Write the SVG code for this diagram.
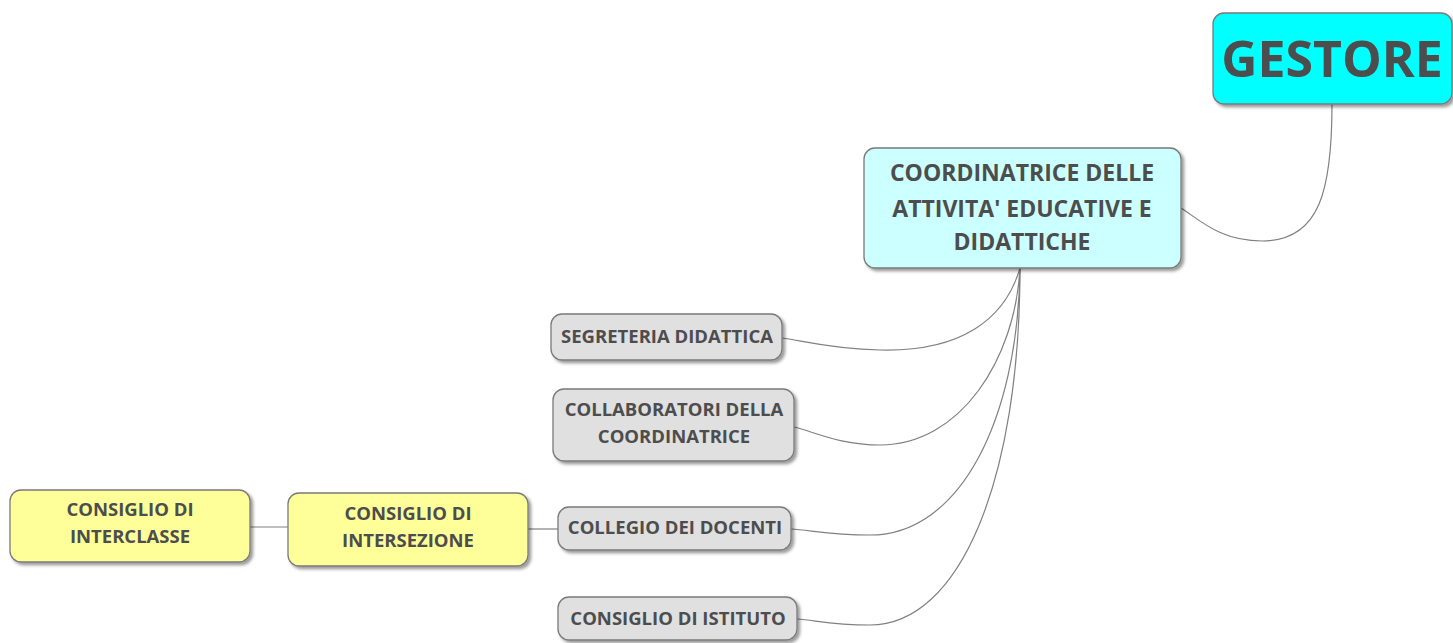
<svg xmlns="http://www.w3.org/2000/svg" width="1453" height="643" viewBox="0 0 1453 643">
<style>
.n{stroke:#7a7a7a;stroke-width:1.3;filter:url(#sh)}
.t{font-family:"Open Sans","Noto Sans",sans-serif;font-weight:bold;fill:#4d4d4d;text-anchor:middle}
.s{font-size:18.5px}
.c{fill:none;stroke:#808080;stroke-width:1.2}
</style>
<defs>
<filter id="sh" x="-10%" y="-10%" width="130%" height="140%">
<feDropShadow dx="2.5" dy="2.5" stdDeviation="1.5" flood-color="#000" flood-opacity="0.4"/>
</filter>
</defs>
<rect width="1453" height="643" fill="#fff"/>
<g id="connectors">
<path class="c" d="M1332,104 C1332,190 1320,241 1262,241 C1220,241 1200,220 1181,208"/>
<path class="c" d="M1020,268 C1005,320 960,352 880,350 C830,349 800,340 782,338"/>
<path class="c" d="M1020,268 C1015,360 960,445 880,445 C840,445 815,432 794,427"/>
<path class="c" d="M1020,268 C1018,420 960,535 870,535 C830,535 810,530 791,529"/>
<path class="c" d="M1020,268 C1020,480 960,625 870,625 C830,625 815,620 797,619"/>
<path class="c" d="M528,529 L558,529"/>
<path class="c" d="M250,527 L288,527"/>
</g>
<g id="gestore">
<rect class="n" x="1213" y="13" width="239" height="91" rx="11" fill="#00ffff"/>
<text class="t" x="1332" y="77" font-size="50">GESTORE</text>
</g>
<g id="coordinatrice">
<rect class="n" x="864" y="148" width="317" height="120" rx="11" fill="#ccffff"/>
<text class="t" font-size="23"><tspan x="1022" y="181">COORDINATRICE DELLE</tspan><tspan x="1022" y="217">ATTIVITA' EDUCATIVE E</tspan><tspan x="1022" y="250">DIDATTICHE</tspan></text>
</g>
<g id="segreteria">
<rect class="n" x="551" y="314" width="231" height="46" rx="11" fill="#e0e0e0"/>
<text class="t s" x="667" y="343">SEGRETERIA DIDATTICA</text>
</g>
<g id="collaboratori">
<rect class="n" x="553" y="389" width="241" height="72" rx="11" fill="#e0e0e0"/>
<text class="t s"><tspan x="674" y="416">COLLABORATORI DELLA</tspan><tspan x="674" y="443">COORDINATRICE</tspan></text>
</g>
<g id="collegio">
<rect class="n" x="558" y="507" width="233" height="43" rx="11" fill="#e0e0e0"/>
<text class="t s" x="675" y="534">COLLEGIO DEI DOCENTI</text>
</g>
<g id="istituto">
<rect class="n" x="558" y="597" width="239" height="43" rx="11" fill="#e0e0e0"/>
<text class="t s" x="678" y="625">CONSIGLIO DI ISTITUTO</text>
</g>
<g id="intersezione">
<rect class="n" x="288" y="493" width="240" height="73" rx="11" fill="#ffff99"/>
<text class="t s"><tspan x="408" y="520">CONSIGLIO DI</tspan><tspan x="408" y="547">INTERSEZIONE</tspan></text>
</g>
<g id="interclasse">
<rect class="n" x="10" y="490" width="240" height="72" rx="11" fill="#ffff99"/>
<text class="t s"><tspan x="130" y="516">CONSIGLIO DI</tspan><tspan x="130" y="543">INTERCLASSE</tspan></text>
</g>
</svg>
